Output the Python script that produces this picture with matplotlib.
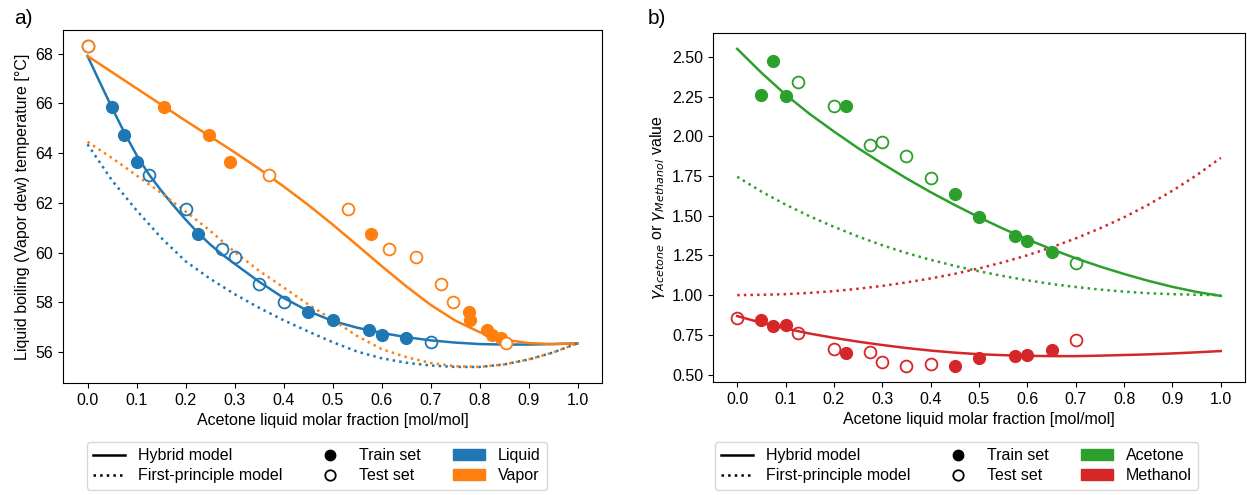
import numpy as np
import matplotlib
matplotlib.use("Agg")
import matplotlib.pyplot as plt
from matplotlib.lines import Line2D
from matplotlib.patches import Patch

plt.rcParams['font.family'] = ['Liberation Sans', 'DejaVu Sans']
plt.rcParams['font.size'] = 11.5

#--------------------------------------------------------
# Data
#--------------------------------------------------------

# panel a) - measured points (liquid x, vapor y, temperature)
liq_train_x = [0.05, 0.075, 0.1, 0.225, 0.45, 0.5, 0.575, 0.6, 0.65]
liq_train_T = [65.85, 64.72, 63.65, 60.75, 57.6, 57.3, 56.9, 56.7, 56.55]
liq_test_x = [0.0, 0.125, 0.2, 0.275, 0.3, 0.35, 0.4, 0.7]
liq_test_T = [68.3, 63.1, 61.75, 60.15, 59.8, 58.75, 58.0, 56.4]

vap_train_x = [0.156, 0.247, 0.291, 0.578, 0.778, 0.780, 0.816, 0.826, 0.843]
vap_train_T = [65.85, 64.72, 63.65, 60.75, 57.6, 57.3, 56.9, 56.7, 56.55]
vap_test_x = [0.0, 0.371, 0.532, 0.616, 0.671, 0.722, 0.745, 0.854]
vap_test_T = [68.3, 63.1, 61.75, 60.15, 59.8, 58.75, 58.0, 56.38]

# panel a) - model curves
liq_hyb_x = [0.0, 0.025, 0.05, 0.075, 0.1, 0.125, 0.15, 0.175, 0.2, 0.225, 0.25,
             0.275, 0.3, 0.35, 0.4, 0.45, 0.5, 0.55, 0.6, 0.65, 0.7, 0.75, 0.8,
             0.85, 0.9, 0.95, 1.0]
liq_hyb_T = [67.9, 66.85, 65.82, 64.83, 63.92, 63.15, 62.5, 61.9, 61.33, 60.8, 60.33,
             59.92, 59.55, 58.83, 58.18, 57.65, 57.25, 56.98, 56.77, 56.6, 56.47,
             56.38, 56.32, 56.3, 56.3, 56.32, 56.35]

x_grid = [0.0, 0.05, 0.1, 0.15, 0.2, 0.25, 0.3, 0.35, 0.4, 0.45, 0.5, 0.55, 0.6,
          0.65, 0.7, 0.75, 0.8, 0.85, 0.9, 0.95, 1.0]
vap_hyb_T = [67.9, 67.25, 66.6, 65.95, 65.3, 64.67, 64.03, 63.37, 62.66, 61.92, 61.13,
             60.3, 59.46, 58.65, 57.9, 57.27, 56.8, 56.5, 56.36, 56.32, 56.35]
liq_fp_T = [64.35, 62.9, 61.7, 60.6, 59.65, 58.95, 58.33, 57.78, 57.28, 56.83, 56.4,
            56.02, 55.75, 55.57, 55.46, 55.4, 55.4, 55.5, 55.7, 55.98, 56.35]
vap_fp_T = [64.45, 63.8, 63.1, 62.4, 61.65, 60.88, 60.03, 59.27, 58.6, 57.92, 57.3,
            56.65, 56.12, 55.8, 55.56, 55.43, 55.4, 55.5, 55.7, 55.98, 56.35]

# panel b) - activity coefficients
ace_train_x = [0.05, 0.075, 0.1, 0.225, 0.45, 0.5, 0.575, 0.6, 0.65]
ace_train_g = [2.26, 2.475, 2.255, 2.19, 1.635, 1.49, 1.374, 1.343, 1.271]
ace_test_x = [0.125, 0.2, 0.275, 0.3, 0.35, 0.4, 0.7]
ace_test_g = [2.34, 2.19, 1.946, 1.966, 1.878, 1.74, 1.2]

met_train_x = [0.05, 0.075, 0.1, 0.225, 0.45, 0.5, 0.575, 0.6, 0.65]
met_train_g = [0.842, 0.805, 0.815, 0.637, 0.553, 0.607, 0.616, 0.626, 0.653]
met_test_x = [0.0, 0.125, 0.2, 0.275, 0.3, 0.35, 0.4, 0.7]
met_test_g = [0.859, 0.763, 0.66, 0.639, 0.576, 0.553, 0.565, 0.716]

g_grid = [0.0, 0.05, 0.1, 0.15, 0.2, 0.25, 0.3, 0.35, 0.4, 0.45, 0.5, 0.55, 0.6,
          0.65, 0.7, 0.75, 0.8, 0.85, 0.9, 0.95, 1.0]
ace_hyb = [2.55, 2.4, 2.262, 2.14, 2.03, 1.925, 1.828, 1.735, 1.648, 1.567, 1.49,
           1.418, 1.351, 1.289, 1.232, 1.18, 1.133, 1.09, 1.052, 1.02, 0.995]
met_hyb = [0.868, 0.826, 0.79, 0.758, 0.731, 0.707, 0.686, 0.667, 0.651, 0.638, 0.628,
           0.622, 0.618, 0.616, 0.616, 0.619, 0.623, 0.627, 0.633, 0.64, 0.648]
ace_fp = [1.745, 1.652, 1.57, 1.496, 1.43, 1.369, 1.314, 1.265, 1.222, 1.184, 1.15,
          1.12, 1.093, 1.07, 1.051, 1.035, 1.022, 1.012, 1.006, 1.002, 1.0]
met_fp = [1.0, 1.002, 1.006, 1.014, 1.025, 1.04, 1.058, 1.08, 1.105, 1.134, 1.168,
          1.207, 1.251, 1.301, 1.357, 1.42, 1.49, 1.569, 1.657, 1.755, 1.864]

xticks = np.arange(0, 1.01, 0.1)

#--------------------------------------------------------
# Plotting
#--------------------------------------------------------

fig = plt.figure(figsize=(12.47, 4.95), dpi=100)
ax1 = fig.add_axes([63 / 1247, 1 - 383 / 495, 539 / 1247, 353 / 495])
ax2 = fig.add_axes([713 / 1247, 1 - 382 / 495, 532 / 1247, 349 / 495])

ms = 8.5
lw = 1.8

# a)
ax1.plot(liq_hyb_x, liq_hyb_T, '-', color='tab:blue', lw=lw)
ax1.plot(x_grid, vap_hyb_T, '-', color='tab:orange', lw=lw)
ax1.plot(x_grid, liq_fp_T, ':', color='tab:blue', lw=lw)
ax1.plot(x_grid, vap_fp_T, ':', color='tab:orange', lw=lw)
ax1.plot(liq_train_x, liq_train_T, 'o', color='tab:blue', ms=ms)
ax1.plot(liq_test_x, liq_test_T, 'o', mfc='none', mec='tab:blue', ms=ms, mew=1.3)
ax1.plot(vap_train_x, vap_train_T, 'o', color='tab:orange', ms=ms)
ax1.plot(vap_test_x, vap_test_T, 'o', mfc='white', mec='tab:orange', ms=ms, mew=1.3)
ax1.set_xticks(xticks)
ax1.set_yticks([56, 58, 60, 62, 64, 66, 68])
ax1.set_xlabel('Acetone liquid molar fraction [mol/mol]')
ax1.set_ylabel('Liquid boiling (Vapor dew) temperature [°C]')

# b)
ax2.plot(g_grid, ace_hyb, '-', color='tab:green', lw=lw)
ax2.plot(g_grid, met_hyb, '-', color='tab:red', lw=lw)
ax2.plot(g_grid, ace_fp, ':', color='tab:green', lw=lw)
ax2.plot(g_grid, met_fp, ':', color='tab:red', lw=lw)
ax2.plot(ace_train_x, ace_train_g, 'o', color='tab:green', ms=ms)
ax2.plot(ace_test_x, ace_test_g, 'o', mfc='none', mec='tab:green', ms=ms, mew=1.3)
ax2.plot(met_train_x, met_train_g, 'o', color='tab:red', ms=ms)
ax2.plot(met_test_x, met_test_g, 'o', mfc='none', mec='tab:red', ms=ms, mew=1.3)
ax2.set_xticks(xticks)
ax2.set_yticks(np.arange(0.5, 2.51, 0.25))
ax2.yaxis.set_major_formatter(matplotlib.ticker.FormatStrFormatter('%.2f'))
ax2.set_xlabel('Acetone liquid molar fraction [mol/mol]')
ax2.set_ylabel(r'$\gamma_{Acetone}$ or $\gamma_{Methanol}$ value')

# legends
common = [Line2D([], [], color='black', lw=lw, ls='-'),
          Line2D([], [], color='black', lw=lw, ls=':'),
          Line2D([], [], color='black', marker='o', ls='none', ms=ms - 1),
          Line2D([], [], color='black', marker='o', mfc='none', ls='none', ms=ms - 1, mew=1.3)]
common_labels = ['Hybrid model', 'First-principle model', 'Train set', 'Test set']

fig.legend(common + [Patch(color='tab:blue'), Patch(color='tab:orange')],
           common_labels + ['Liquid', 'Vapor'], ncol=3, loc='upper left',
           bbox_to_anchor=(87 / 1247, 1 - 442 / 495), borderaxespad=0,
           labelspacing=0.3)
fig.legend(common + [Patch(color='tab:green'), Patch(color='tab:red')],
           common_labels + ['Acetone', 'Methanol'], ncol=3, loc='upper left',
           bbox_to_anchor=(715 / 1247, 1 - 442 / 495), borderaxespad=0,
           labelspacing=0.3)

fig.text(14 / 1247, 1 - 18 / 495, 'a)', fontsize=15, va='center')
fig.text(648 / 1247, 1 - 18 / 495, 'b)', fontsize=15, va='center')

fig.savefig('out.png', dpi=100)
